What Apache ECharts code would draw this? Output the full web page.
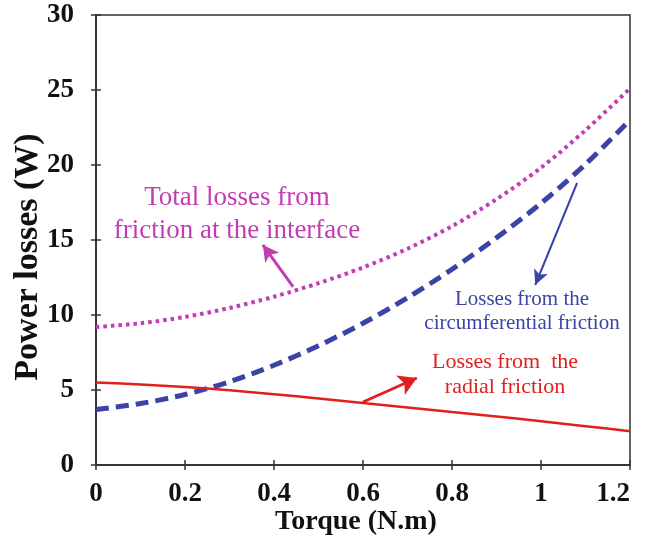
<!DOCTYPE html>
<html>
<head>
<meta charset="utf-8">
<script src="https://cdn.jsdelivr.net/npm/echarts@6/dist/echarts.min.js"></script>
<style>
html,body{margin:0;padding:0;background:#fff;}
#chart{width:649px;height:549px;}
</style>
</head>
<body>
<div id="chart"></div>
<script>
// Data
var torque = [0, 0.1, 0.2, 0.3, 0.4, 0.5, 0.6, 0.7, 0.8, 0.9, 1.0, 1.1, 1.2];
var totalLosses = [9.2, 9.45, 9.87, 10.47, 11.22, 12.12, 13.17, 14.42, 15.92, 17.72, 19.82, 22.32, 25.1];
var circumLosses = [3.7, 4.1, 4.7, 5.55, 6.65, 7.95, 9.45, 11.15, 13.05, 15.15, 17.45, 20.05, 23.0];
var radialLosses = [5.5, 5.37, 5.2, 4.98, 4.72, 4.44, 4.14, 3.84, 3.54, 3.24, 2.92, 2.59, 2.25];
var xTicks = [0, 0.2, 0.4, 0.6, 0.8, 1, 1.2];
var yTicks = [0, 5, 10, 15, 20, 25, 30];
// annotation arrows (data coords): [tail, tip]
var totalArrow = [[0.443, 11.87], [0.375, 14.67]];
var circumArrow = [[1.081, 18.8], [0.987, 12.0]];
var radialArrow = [[0.6, 4.2], [0.721, 5.8]];
var totalText = 'Total losses from\nfriction at the interface';
var circumText = 'Losses from the\ncircumferential friction';
var radialText = 'Losses from  the\nradial friction';

function pairs(xs, ys){ return xs.map(function(x,i){ return [x, ys[i]]; }); }

var FONT = '"Liberation Serif", "Times New Roman", serif';
var AX = '#333';
var PINK = '#c23cb4', BLUE = '#3a44a6', RED = '#e0201e';
var xStep = xTicks[1] - xTicks[0], yStep = yTicks[1] - yTicks[0];
var xMin = xTicks[0], xMax = xTicks[xTicks.length-1];
var yMin = yTicks[0], yMax = yTicks[yTicks.length-1];

var chart = echarts.init(document.getElementById('chart'));
chart.setOption({
  animation: false,
  backgroundColor: '#fff',
  grid: {left: 96, right: 19, top: 15, bottom: 84, show: true, borderColor: AX, borderWidth: 1.5,
    containLabel: false, outerBoundsMode: 'none'},
  xAxis: [{
    type: 'value', min: xMin, max: xMax, interval: xStep, position: 'bottom',
    name: 'Torque (N.m)', nameLocation: 'middle', nameGap: 43, nameMoveOverlap: false,
    nameTextStyle: {fontFamily: FONT, fontWeight: 'bold', fontSize: 28, color: '#111', padding: [0, 14, 0, 0]},
    axisLine: {show: true, lineStyle: {color: AX, width: 1.5}},
    axisTick: {show: true, inside: true, length: 5, lineStyle: {color: AX, width: 1.5}},
    axisLabel: {fontFamily: FONT, fontWeight: 'bold', fontSize: 27, color: '#111', margin: 16,
      alignMaxLabel: 'right',
      formatter: function(v){ return String(Math.round(v*10)/10); }},
    splitLine: {show: false}
  },{
    type: 'value', min: xMin, max: xMax, interval: xStep, position: 'top',
    axisLine: {show: true, lineStyle: {color: AX, width: 1.5}},
    axisTick: {show: true, inside: true, length: 5, lineStyle: {color: AX, width: 1.5}},
    axisLabel: {show: false}, splitLine: {show: false}
  }],
  yAxis: [{
    type: 'value', min: yMin, max: yMax, interval: yStep, position: 'left',
    name: 'Power losses (W)', nameLocation: 'middle', nameGap: 51, nameRotate: 90, nameMoveOverlap: false,
    nameTextStyle: {fontFamily: FONT, fontWeight: 'bold', fontSize: 34, color: '#111', padding: [0, 34, 0, 0]},
    axisLine: {show: true, lineStyle: {color: AX, width: 1.5}},
    axisTick: {show: true, inside: true, length: 5, lineStyle: {color: AX, width: 1.5}},
    axisLabel: {fontFamily: FONT, fontWeight: 'bold', fontSize: 27, color: '#111', margin: 22},
    splitLine: {show: false}
  },{
    type: 'value', min: yMin, max: yMax, interval: yStep, position: 'right',
    axisLine: {show: true, lineStyle: {color: AX, width: 1.5}},
    axisTick: {show: true, inside: true, length: 5, lineStyle: {color: AX, width: 1.5}},
    axisLabel: {show: false}, splitLine: {show: false}
  }],
  series: [{
    name: 'Total losses', type: 'line', smooth: 0.3, showSymbol: false,
    data: pairs(torque, totalLosses),
    lineStyle: {color: PINK, width: 4, type: [3.5, 4], cap: 'butt'},
    markLine: {silent: true, symbol: ['none', 'arrow'], symbolSize: [13, 16], label: {show: false},
      lineStyle: {color: PINK, width: 3, type: 'solid'},
      data: [[{coord: totalArrow[0]}, {coord: totalArrow[1]}]]}
  },{
    name: 'Circumferential', type: 'line', smooth: 0.3, showSymbol: false,
    data: pairs(torque, circumLosses),
    lineStyle: {color: BLUE, width: 5, type: [13, 7], cap: 'butt'},
    markLine: {silent: true, symbol: ['none', 'arrow'], symbolSize: [11, 15], label: {show: false},
      lineStyle: {color: BLUE, width: 2, type: 'solid'},
      data: [[{coord: circumArrow[0]}, {coord: circumArrow[1]}]]}
  },{
    name: 'Radial', type: 'line', smooth: 0.3, showSymbol: false,
    data: pairs(torque, radialLosses),
    lineStyle: {color: RED, width: 2.5, type: 'solid'},
    markLine: {silent: true, symbol: ['none', 'arrow'], symbolSize: [16, 18], label: {show: false},
      lineStyle: {color: RED, width: 3, type: 'solid'},
      data: [[{coord: radialArrow[0]}, {coord: radialArrow[1]}]]}
  }],
  graphic: [{
    type: 'text', x: 237, y: 214,
    style: {text: totalText, fill: PINK, font: '27px ' + FONT,
      align: 'center', verticalAlign: 'middle', lineHeight: 33}
  },{
    type: 'text', x: 522, y: 311,
    style: {text: circumText, fill: BLUE, font: '21px ' + FONT,
      align: 'center', verticalAlign: 'middle', lineHeight: 24}
  },{
    type: 'text', x: 505, y: 375,
    style: {text: radialText, fill: RED, font: '22px ' + FONT,
      align: 'center', verticalAlign: 'middle', lineHeight: 25}
  }]
});
</script>
</body>
</html>
